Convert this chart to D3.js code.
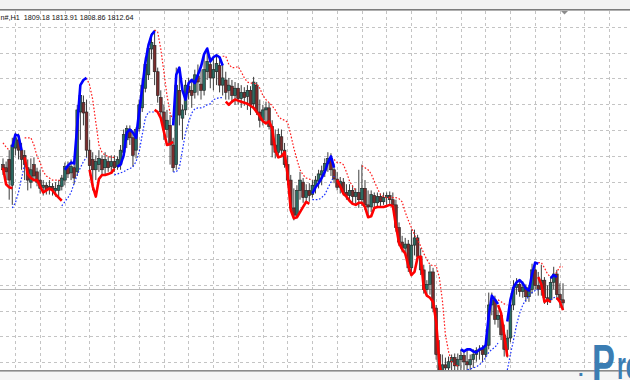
<!DOCTYPE html>
<html lang="en">
<head>
<meta charset="UTF-8">
<title>H1 chart with trend lines</title>
<script src="https://d3js.org/d3.v7.min.js"></script>
<style>
html, body { margin: 0; padding: 0; background: #fff; }
svg { display: block; }
</style>
</head>
<body>
<div id="chart"></div>
<script>
// Header text of the chart window
const symbolLabel = "n#,H1";
const ohlcLabel = ["1809.18", "1813.91", "1808.86", "1812.64"];

// Candles, one per hour (prices)
const opens = [1823.3,1822.7,1824.3,1819.3,1826.5,1828.1,1826.1,1825.1,1822.7,1819.9,
  1823.3,1821.9,1820.3,1818.9,1819.3,1818.5,1819.1,1818.3,1818.3,1819.1,
  1820.3,1822.7,1821.7,1822.7,1821.9,1833.5,1835.3,1833.5,1826.1,1824.3,
  1822.3,1823.3,1824.3,1822.7,1823.9,1822.9,1823.9,1822.9,1823.3,1825.7,
  1828.1,1830.1,1828.5,1826.1,1830.3,1834.3,1838.1,1840.7,1845.7,1846.4,
  1841.3,1836.3,1833.5,1830.1,1830.9,1827.1,1823.3,1837.7,1832.3,1833.9,
  1838.5,1837.7,1837.3,1840.5,1838.9,1837.7,1841.3,1842.7,1840.1,1841.3,
  1842.5,1838.7,1839.7,1837.7,1838.5,1836.7,1838.1,1836.1,1837.3,1836.5,
  1837.7,1835.1,1838.7,1833.5,1831.9,1833.9,1834.3,1830.7,1827.1,1825.7,
  1828.7,1826.1,1823.3,1820.3,1814.9,1813.5,1818.3,1819.9,1816.9,1818.3,
  1817.5,1819.1,1820.1,1821.3,1822.1,1823.5,1824.5,1822.3,1820.5,1818.9,
  1819.9,1817.9,1817.3,1818.3,1817.1,1817.9,1816.5,1818.7,1815.5,1815.1,
  1817.3,1815.9,1817.1,1816.1,1816.9,1817.3,1816.5,1815.5,1811.1,1808.3,
  1807.1,1807.9,1803.3,1807.7,1809.1,1805.5,1802.9,1799.1,1800.1,1802.5,
  1795.5,1786.5,1783.1,1784.5,1783.9,1785.1,1785.9,1784.3,1785.5,1786.3,
  1785.1,1784.5,1785.5,1786.5,1787.3,1787.5,1786.5,1788.3,1796.1,1797.1,
  1793.3,1794.1,1790.3,1787.5,1789.7,1796.1,1799.5,1800.1,1798.7,1799.5,
  1797.7,1799.1,1802.9,1799.9,1799.1,1800.9,1797.5,1797.1,1800.5,1802.1,
  1798.1,1797.1];
const highs = [1824.5,1823.9,1826.1,1828.5,1829.5,1829.3,1827.5,1826.1,1824.3,1824.5,
  1824.7,1822.7,1822.3,1820.3,1819.9,1820.3,1819.7,1819.9,1820.3,1821.3,
  1823.7,1823.9,1824.3,1823.3,1834.9,1838.5,1836.7,1835.9,1828.1,1825.7,
  1825.1,1826.1,1825.1,1825.7,1824.9,1825.1,1825.1,1824.9,1827.1,1830.1,
  1830.9,1830.9,1829.7,1830.5,1835.9,1840.1,1844.1,1846.8,1848.8,1849.4,
  1842.1,1837.7,1834.9,1833.9,1832.9,1828.5,1842.1,1841.3,1834.9,1839.7,
  1840.1,1839.7,1841.7,1842.7,1841.7,1844.7,1845.8,1844.1,1844.1,1844.5,
  1843.7,1842.7,1841.3,1840.1,1839.7,1839.3,1839.1,1838.7,1838.3,1838.7,
  1838.5,1840.3,1839.3,1835.9,1834.9,1835.5,1835.3,1831.9,1830.1,1830.3,
  1830.1,1827.5,1825.1,1821.3,1818.7,1819.3,1821.9,1820.7,1819.5,1819.7,
  1820.3,1821.1,1822.3,1823.1,1824.5,1825.7,1825.5,1823.5,1821.9,1820.9,
  1820.7,1819.5,1819.5,1819.3,1818.7,1822.3,1823.3,1820.3,1818.3,1818.3,
  1817.9,1817.9,1817.7,1817.9,1817.9,1818.1,1817.9,1816.5,1812.1,1809.5,
  1809.1,1808.7,1810.7,1810.7,1809.7,1807.1,1803.9,1800.9,1803.9,1803.3,
  1796.1,1789.3,1786.5,1785.9,1786.1,1786.5,1786.7,1786.7,1787.5,1787.1,
  1787.5,1786.5,1787.5,1787.9,1788.3,1788.3,1789.3,1798.5,1798.5,1797.9,
  1795.1,1794.7,1792.3,1791.3,1797.1,1800.9,1801.3,1800.9,1800.7,1800.1,
  1799.9,1804.1,1804.5,1802.5,1803.9,1801.5,1799.9,1801.5,1803.5,1802.9,
  1800.3,1800.3];
const lows = [1821.3,1820.3,1816.5,1815.5,1825.1,1824.3,1822.3,1820.3,1818.3,1818.7,
  1820.3,1819.1,1817.7,1817.3,1817.5,1817.5,1817.3,1817.1,1816.7,1818.3,
  1819.3,1820.7,1820.3,1819.5,1821.1,1828.1,1830.9,1824.7,1821.9,1818.3,
  1820.3,1821.9,1821.3,1821.3,1821.9,1821.5,1821.9,1822.3,1822.3,1824.5,
  1826.5,1827.1,1822.9,1824.5,1829.7,1833.5,1837.3,1839.7,1843.7,1838.7,
  1835.3,1831.9,1828.1,1828.5,1823.3,1821.9,1822.3,1830.9,1828.1,1832.9,
  1835.9,1834.3,1836.1,1836.7,1835.9,1836.7,1839.7,1838.1,1837.7,1838.7,
  1837.3,1836.7,1835.9,1835.9,1835.3,1834.9,1834.9,1834.3,1834.7,1833.9,
  1832.9,1834.3,1832.9,1830.5,1830.9,1831.5,1830.1,1824.7,1824.5,1825.1,
  1824.9,1822.7,1819.3,1814.1,1812.5,1812.9,1816.5,1815.9,1815.9,1816.1,
  1816.9,1817.7,1818.7,1819.3,1820.9,1821.9,1821.1,1819.7,1818.3,1817.7,
  1817.3,1816.5,1816.5,1815.9,1815.7,1814.9,1815.3,1814.5,1813.5,1814.1,
  1814.9,1815.1,1815.3,1815.5,1815.5,1815.7,1814.5,1810.3,1807.5,1806.3,
  1805.7,1802.5,1802.5,1805.7,1804.9,1801.9,1798.3,1797.7,1798.1,1794.7,
  1785.5,1781.9,1781.5,1781.1,1781.9,1782.5,1782.5,1782.7,1783.5,1783.5,
  1783.1,1783.5,1783.9,1785.1,1785.5,1785.1,1785.9,1787.5,1794.1,1792.3,
  1791.7,1789.3,1786.1,1785.9,1788.9,1795.1,1798.1,1797.7,1797.5,1796.7,
  1796.7,1798.3,1799.1,1797.9,1797.9,1796.3,1796.1,1796.5,1799.1,1797.1,
  1795.5,1795.1];
const closes = [1822.3,1821.9,1820.3,1827.1,1828.5,1826.1,1824.3,1823.3,1820.3,1822.3,
  1821.1,1819.9,1818.7,1819.3,1818.3,1819.1,1818.3,1818.7,1819.3,1820.7,
  1822.9,1821.5,1822.9,1820.7,1833.9,1836.7,1833.3,1826.1,1823.1,1822.3,
  1823.9,1824.5,1822.3,1824.3,1822.7,1823.9,1822.7,1824.3,1826.1,1829.1,
  1830.3,1828.5,1825.1,1830.1,1834.9,1838.7,1842.7,1845.8,1847.0,1841.3,
  1836.7,1833.5,1830.1,1831.9,1827.1,1822.7,1838.7,1832.9,1833.9,1838.7,
  1837.3,1836.7,1840.7,1839.3,1837.7,1841.7,1843.3,1840.1,1841.7,1842.9,
  1838.7,1840.1,1837.3,1838.7,1836.7,1838.1,1836.1,1837.3,1836.3,1837.7,
  1834.9,1839.3,1833.5,1831.9,1833.9,1834.3,1830.7,1827.1,1825.7,1829.1,
  1826.1,1823.3,1820.3,1814.9,1813.5,1818.3,1820.3,1816.9,1818.3,1817.3,
  1819.3,1820.3,1821.5,1822.1,1823.5,1824.5,1822.3,1820.5,1818.9,1820.1,
  1817.9,1817.3,1818.3,1817.1,1817.9,1816.5,1818.7,1815.5,1815.1,1817.5,
  1815.9,1817.1,1816.1,1816.9,1817.3,1816.5,1815.5,1811.1,1808.3,1807.1,
  1807.9,1803.3,1807.7,1809.1,1805.5,1802.9,1799.1,1800.1,1802.5,1795.5,
  1786.5,1783.1,1784.5,1783.9,1785.1,1785.9,1784.3,1785.5,1786.3,1785.1,
  1784.5,1785.5,1786.5,1787.3,1787.5,1786.5,1788.3,1796.1,1797.1,1793.3,
  1794.1,1790.3,1787.5,1789.7,1796.1,1799.5,1800.1,1798.7,1799.5,1797.7,
  1799.1,1802.9,1799.9,1799.1,1800.9,1797.5,1797.1,1800.5,1802.1,1798.1,
  1797.1,1796.5];

// Indicator buffers, stored as [first bar, values...] runs
const trendUp = [
  [3, [1826.7,1829.1,1828.9,1826.1]],
  [20, [1822.3,1823.1,1823.7,1823.5,1830.9,1838.7,1839.7,1840.1]],
  [37, [1822.9,1823.3,1825.1,1829.5,1830.1,1829.5,1828.5,1833.5,1838.1,1843.1,1846.4,1848.4,1849.2]],
  [55, [1830.9,1840.7,1842.1,1837.7,1835.9,1839.1,1839.7,1839.1,1840.7,1842.3,1844.7,1845.8,1843.3,1844.1,1844.5,1844.1,1842.5]],
  [100, [1817.7,1818.9,1819.7,1820.7,1821.9,1823.7,1824.9,1822.7]],
  [148, [1787.5,1787.1,1787.5,1787.5,1787.1,1786.9,1787.5,1787.7,1788.3,1794.1,1797.9,1797.1,1796.3]],
  [163, [1792.9,1797.1,1799.5,1800.5,1800.9,1800.3,1799.3,1798.9,1802.1,1804.3,1804.1]],
  [177, [1801.3,1801.9,1801.5]]
];
const trendDown = [
  [0, [1822.7,1819.5,1818.9,1818.7]],
  [7, [1824.7,1821.5,1820.7,1820.3,1820.3,1819.1,1817.9,1818.3,1818.7,1818.3,1817.5,1816.9,1816.3]],
  [28, [1822.3,1819.1,1817.1,1820.5,1821.3,1821.3,1821.5,1821.7,1822.5]],
  [49, [1833.9,1833.5,1832.3,1829.7,1827.1,1827.3,1827.7]],
  [72, [1835.5,1834.9,1835.5,1835.9,1835.7,1835.5,1835.3,1835.1,1834.7,1834.3,1833.5,1832.7,1831.7,1831.3,
        1831.7,1830.3,1826.1,1824.7,1824.9,1825.7,1821.3,1814.5,1812.9,1813.1,1814.1,1815.1,1816.1,1815.7]],
  [108, [1820.3,1819.1,1817.7,1817.1,1816.3,1815.7,1815.5,1815.9,1815.9,1815.1,1813.1,1813.3,1814.9,1815.1,
         1815.1,1815.1,1815.3,1815.5,1815.3,1811.5,1808.1,1806.9,1806.1,1803.7,1801.9,1802.5,1805.3,1805.5,
         1799.3,1797.9,1797.5,1796.7,1792.9,1785.1,1781.5]],
  [160, [1796.1,1794.5,1790.3,1786.1]],
  [173, [1801.5,1800.1,1796.7,1797.1,1796.7]],
  [179, [1797.5,1796.7,1795.1]]
];
const stopUp = [
  [3, [1814.9,1815.9,1817.9,1820.7,1823.3]],
  [19, [1815.3,1816.1,1816.9,1817.9,1819.7,1821.3,1822.7,1823.9,1824.7]],
  [36, [1821.3,1821.5,1821.7,1821.9,1822.3,1822.5,1822.9,1823.9,1825.7,1829.1,1832.3,1833.5,1833.5,1833.5]],
  [55, [1821.9,1821.9,1822.7,1826.1,1829.5,1831.5,1833.3,1834.1,1834.3,1834.3,1834.5,1834.9,1835.1,1835.9,1836.1,1836.3,1836.3]],
  [100, [1816.5,1816.5,1816.5,1816.9,1817.5,1818.7,1819.9,1821.1]],
  [148, [1783.1,1783.3,1783.5,1783.7,1783.9,1784.1,1784.5,1785.1,1785.9,1786.9,1787.5,1787.9,1788.7]],
  [163, [1783.5,1786.5,1789.3,1792.3,1794.5,1796.1,1797.1,1797.9,1798.5,1798.9,1799.1]],
  [177, [1797.1,1797.5,1797.7]]
];
const stopDown = [
  [0, [1827.5,1826.7,1826.1]],
  [7, [1828.5,1828.5,1828.5,1827.1,1824.9,1823.7,1821.9,1821.1,1820.7,1820.3,1820.3,1820.3,1820.1]],
  [27, [1840.1,1838.7,1835.9,1831.5,1827.1,1825.7,1825.1,1824.9,1824.7,1824.7]],
  [49, [1849.4,1849.0,1845.7,1841.3,1836.7,1833.3,1831.9]],
  [71, [1844.3,1844.3,1842.7,1842.1,1842.1,1842.3,1841.3,1840.1,1839.3,1839.1,1839.1,1838.9,1838.1,1836.7,1835.9,
        1835.3,1834.7,1833.9,1832.7,1832.1,1831.9,1831.5,1829.1,1826.5,1824.3,1822.3,1821.3,1820.7,1820.5,1820.3]],
  [107, [1824.3,1823.7,1823.7,1823.3,1821.9,1820.1,1819.1,1818.3]],
  [116, [1823.1,1822.7,1822.3,1821.5,1820.1,1818.7,1817.5,1817.1,1816.9,1816.9,1816.9,1816.9,1816.7,1816.1,1814.1,
         1812.5,1811.1,1809.7,1808.7,1807.5,1806.1,1804.9,1803.9,1803.7,1803.7,1801.5,1797.1,1790.3,1787.1,1785.1,
         1784.5,1784.3]],
  [160, [1797.1,1796.7,1796.3,1796.1]],
  [173, [1804.3,1804.3,1803.3,1802.1,1801.5,1801.7,1802.5,1803.5,1803.5]]
];

// Grid: price lines every 5, time lines every 8 bars
const priceGrid = d3.range(1785, 1851, 5);
const timeGridFirstBar = 3.88, timeGridStep = 8;
const levelPrice = 1799.2;

const width = 630, height = 380;
const plotTop = 11, plotBottom = 370;

const svg = d3.select("#chart").append("svg")
  .attr("width", width)
  .attr("height", height)
  .style("font-family", "'Liberation Sans', Arial, sans-serif");

const x = d3.scaleLinear().domain([0, closes.length - 1]).range([3.0, 563]);
const y = d3.scaleLinear().domain([1855.2, 1781.56]).range([0, 380]);

svg.append("rect").attr("width", width).attr("height", height).attr("fill", "#fff");

svg.append("clipPath").attr("id", "plot")
  .append("rect").attr("x", 0).attr("y", plotTop).attr("width", width).attr("height", plotBottom - plotTop);

const plot = svg.append("g").attr("clip-path", "url(#plot)");

// grid
plot.append("g").selectAll("line")
  .data(priceGrid)
  .join("line")
  .attr("x1", 0).attr("x2", width)
  .attr("y1", d => Math.round(y(d)) + 0.5).attr("y2", d => Math.round(y(d)) + 0.5)
  .attr("stroke", "#c4c4c4").attr("stroke-dasharray", "3,3");

plot.append("g").selectAll("line")
  .data(d3.range(timeGridFirstBar, 200, timeGridStep))
  .join("line")
  .attr("x1", d => Math.round(x(d)) + 0.5).attr("x2", d => Math.round(x(d)) + 0.5)
  .attr("y1", plotTop).attr("y2", plotBottom)
  .attr("stroke", "#c4c4c4").attr("stroke-dasharray", "3,3");

plot.append("line")
  .attr("x1", 0).attr("x2", width)
  .attr("y1", Math.round(y(levelPrice)) + 0.5).attr("y2", Math.round(y(levelPrice)) + 0.5)
  .attr("stroke", "#b8b8b8");

// candles
const bars = closes.map((c, i) => ({ i, o: opens[i], h: highs[i], l: lows[i], c }));

plot.append("g").selectAll("line")
  .data(bars)
  .join("line")
  .attr("x1", d => x(d.i)).attr("x2", d => x(d.i))
  .attr("y1", d => y(d.h)).attr("y2", d => y(d.l))
  .attr("stroke", "#3c3c3c").attr("stroke-width", 1);

plot.append("g").selectAll("rect")
  .data(bars)
  .join("rect")
  .attr("x", d => x(d.i) - 1.4)
  .attr("width", 2.8)
  .attr("y", d => y(Math.max(d.o, d.c)))
  .attr("height", d => Math.max(1, Math.abs(y(d.o) - y(d.c))))
  .attr("fill", d => d.c >= d.o ? "#2a6b62" : "#7a2c2c")
  .attr("stroke", "#222").attr("stroke-width", 0.6);

// indicator lines
function runs(list) {
  return list.map(([start, vals]) => vals.map((v, k) => [start + k, v]));
}
const line = d3.line().x(d => x(d[0])).y(d => y(d[1]));

plot.append("g").selectAll("path")
  .data(runs(stopDown))
  .join("path")
  .attr("d", line)
  .attr("fill", "none").attr("stroke", "#ff1a1a").attr("stroke-width", 1.2)
  .attr("stroke-dasharray", "1.6,1.8");

plot.append("g").selectAll("path")
  .data(runs(stopUp))
  .join("path")
  .attr("d", line)
  .attr("fill", "none").attr("stroke", "#1a30ff").attr("stroke-width", 1.2)
  .attr("stroke-dasharray", "1.6,1.8");

plot.append("g").selectAll("path")
  .data(runs(trendDown))
  .join("path")
  .attr("d", line)
  .attr("fill", "none").attr("stroke", "#ff0000").attr("stroke-width", 2.6)
  .attr("stroke-linejoin", "round");

plot.append("g").selectAll("path")
  .data(runs(trendUp))
  .join("path")
  .attr("d", line)
  .attr("fill", "none").attr("stroke", "#0000ff").attr("stroke-width", 2.6)
  .attr("stroke-linejoin", "round");

// window frame
svg.append("rect").attr("x", 0).attr("y", 0).attr("width", width).attr("height", 9).attr("fill", "#f2f2f2");
svg.append("line").attr("x1", 0).attr("x2", width).attr("y1", 9.5).attr("y2", 9.5).attr("stroke", "#7c7c7c");
svg.append("line").attr("x1", 0).attr("x2", width).attr("y1", 10.5).attr("y2", 10.5).attr("stroke", "#b0b0b0");
svg.append("rect").attr("x", 0).attr("y", 372).attr("width", width).attr("height", 8).attr("fill", "#f4f4f4");
svg.append("line").attr("x1", 0).attr("x2", width).attr("y1", 370.5).attr("y2", 370.5).attr("stroke", "#8a8a8a");
svg.append("line").attr("x1", 0).attr("x2", width).attr("y1", 371.5).attr("y2", 371.5).attr("stroke", "#b4b4b4");

// chart shift marker
svg.append("path")
  .attr("d", `M${x(181) - 2},11 h7 l-3.5,3.5 z`)
  .attr("fill", "#8c8c8c");

// header
svg.append("text")
  .attr("x", 0.5).attr("y", 19.5)
  .attr("font-size", 7.2).attr("fill", "#111")
  .attr("xml:space", "preserve")
  .text(symbolLabel + "  " + ohlcLabel.join(" "));

// watermark (cropped by the window edge, as in the screenshot)
const mark = svg.append("g").attr("fill", "#3b7db3").attr("font-weight", "bold");
mark.append("text").attr("x", 578).attr("y", 376).attr("font-size", 20).text(".");
mark.append("text").attr("transform", "translate(592,381) scale(0.66,1)").attr("font-size", 52).text("P");
mark.append("text").attr("transform", "translate(617,379) scale(0.6,1)").attr("font-size", 38).text("ro");
</script>
</body>
</html>
